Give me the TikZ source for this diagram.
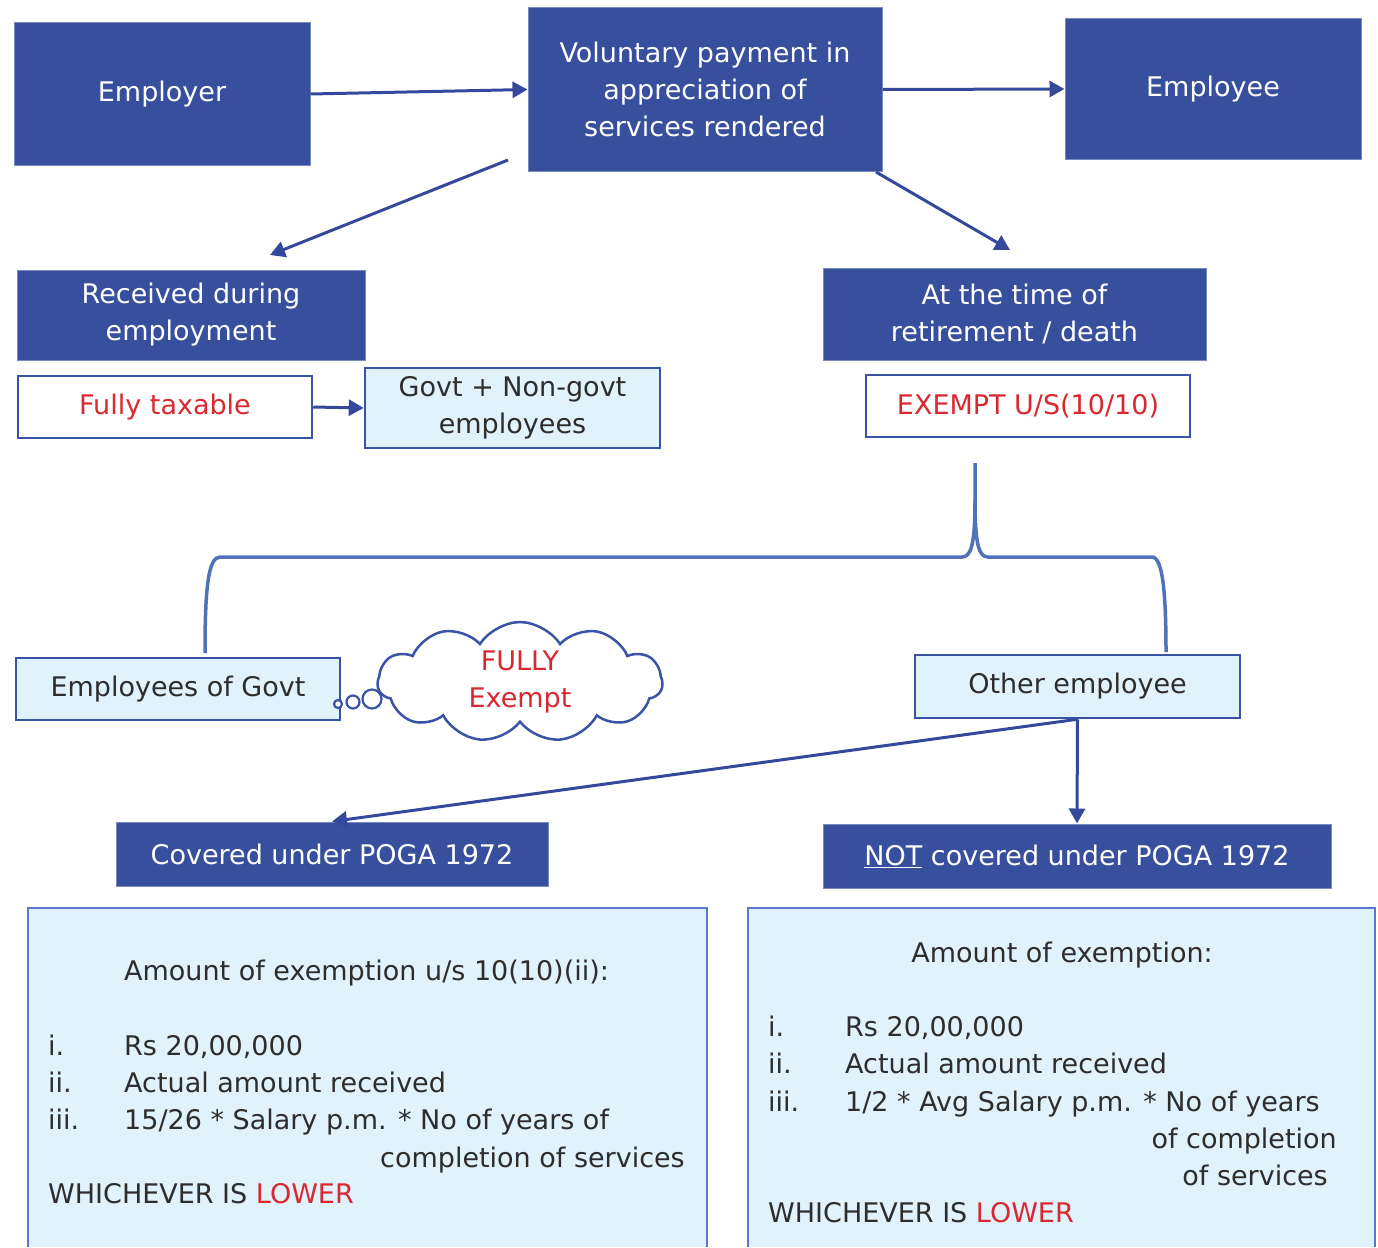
\documentclass[tikz,border=0pt]{standalone}
\usepackage{fontspec}
\setmainfont{DejaVu Sans}
\usetikzlibrary{arrows.meta,shapes.symbols}
\definecolor{dblue}{RGB}{56,79,158}
\definecolor{dline}{RGB}{120,138,190}
\definecolor{lfill}{RGB}{224,242,252}
\definecolor{lline}{RGB}{58,84,165}
\definecolor{arrc}{RGB}{52,73,155}
\definecolor{brc}{RGB}{79,114,184}
\definecolor{redt}{RGB}{218,40,48}
\definecolor{txt}{RGB}{45,45,45}
\definecolor{bigline}{RGB}{90,120,205}
\newcommand\fsz{\fontsize{27}{37}\selectfont}
\begin{document}
\begin{tikzpicture}[x=1pt,y=-1pt,
  dbox/.style={draw=dline, line width=1pt, fill=dblue, text=white, inner sep=0pt, align=center, font=\fsz},
  lbox/.style={draw=lline, line width=2.5pt, fill=lfill, text=txt, inner sep=0pt, align=center, font=\fsz},
  wbox/.style={draw=lline, line width=2.5pt, fill=white, text=redt, inner sep=0pt, align=center, font=\fsz},
  arr/.style={draw=arrc, line width=3pt, -{Triangle[length=15pt,width=16pt]}},
  brace/.style={draw=brc, line width=3.5pt},
  bubble/.style={circle, draw=lline, line width=2.2pt, fill=white, inner sep=0pt},
  btext/.style={text=txt, font=\fsz, inner sep=0pt}
]
\useasboundingbox (0,0) rectangle (1378,1247);

% top row
\node[dbox, minimum width=296pt, minimum height=142pt] (employer) at (162,94) {Employer};
\node[dbox, minimum width=354pt, minimum height=163pt] (volunt) at (705,89.5) {Voluntary payment in\\appreciation of\\services rendered};
\node[dbox, minimum width=296pt, minimum height=140pt] (employee) at (1213,89) {Employee};

\draw[arr] (employer.east) -- (volunt.west);
\draw[arr] (volunt.east) -- (employee.west);

% second row
\node[dbox, minimum width=348pt, minimum height=90pt] (received) at (191,315) {Received during\\employment};
\node[dbox, minimum width=383pt, minimum height=92pt] (attime) at (1014.5,314) {At the time of\\retirement / death};

\coordinate (s1) at (508,160);
\coordinate (t1) at (270,255);
\coordinate (s2) at (876,172);
\coordinate (t2) at (1010,250);
\draw[arr] (s1) -- (t1);
\draw[arr] (s2) -- (t2);

\node[wbox, minimum width=294pt, minimum height=62pt] (fully) at (165,407) {Fully taxable};
\node[lbox, minimum width=295pt, minimum height=80pt] (govtnon) at (512.5,408) {Govt + Non-govt\\employees};
\draw[arr] (fully.east) -- (govtnon.west);
\node[wbox, minimum width=324pt, minimum height=62pt] (exempt) at (1028,406) {EXEMPT U/S(10/10)};

% brace
\coordinate (btop) at (975,463);
\coordinate (bleft) at (205,653);
\coordinate (bright) at (1166,652);
\draw[brace] (btop) -- (975,500) .. controls (975,545) and (971,557) .. (962,557)
  -- (220,557) .. controls (208,557) and (205,590) .. (bleft);
\draw[brace] (975,500) .. controls (975,545) and (979,557) .. (988,557)
  -- (1152,557) .. controls (1163,557) and (1166,595) .. (bright);

% third row
\node[lbox, minimum width=324pt, minimum height=62pt] (empgovt) at (178,689) {Employees of Govt};
\node[lbox, minimum width=325pt, minimum height=63pt] (other) at (1077.5,686.5) {Other employee};

\node[cloud, cloud puffs=11, cloud puff arc=115, aspect=2.6, draw=lline, line width=2.5pt, fill=white,
  minimum width=285pt, minimum height=109pt, inner sep=0pt, text=redt, align=center, font=\fsz] (cloud) at (520,682) {FULLY\\Exempt};
\node[bubble, minimum size=8pt] (b1) at (338,704) {};
\node[bubble, minimum size=13pt] (b2) at (353,702) {};
\node[bubble, minimum size=19pt] (b3) at (372,699) {};

% fourth row
\node[dbox, minimum width=432pt, minimum height=64pt] (covered) at (332,854) {Covered under POGA 1972};
\node[dbox, minimum width=508pt, minimum height=64pt] (notcov) at (1077,856) {\underline{NOT} covered under POGA 1972};
\draw[arr] (other.south) -- (covered.north);
\draw[arr] (other.south) -- (notcov.north);

% big boxes
\fill[lfill] (28,908) rectangle (707,1247);
\draw[bigline, line width=1.2pt] (28,1247) -- (28,908) -- (707,908) -- (707,1247);
\fill[lfill] (748,908) rectangle (1375,1247);
\draw[bigline, line width=1.2pt] (748,1247) -- (748,908) -- (1375,908) -- (1375,1247);

% left box text
\node[btext, anchor=base west] (la) at (124,980) {Amount of exemption u/s 10(10)(ii):};
\node[btext, anchor=base west] (l1n) at (48,1055) {i.};
\node[btext, anchor=base west] (l1) at (124,1055) {Rs 20,00,000};
\node[btext, anchor=base west] (l2n) at (48,1092) {ii.};
\node[btext, anchor=base west] (l2) at (124,1092) {Actual amount received};
\node[btext, anchor=base west] (l3n) at (48,1129) {iii.};
\node[btext, anchor=base west] (l3) at (124,1129) {15/26 * Salary p.m. * No of years of};
\node[btext, anchor=base east] (l4) at (685,1167) {completion of services};
\node[btext, anchor=base west] (l5) at (48,1203) {WHICHEVER IS \textcolor{redt}{LOWER}};

% right box text
\node[btext, anchor=base] (ra) at (1062,962) {Amount of exemption:};
\node[btext, anchor=base west] (r1n) at (768,1036) {i.};
\node[btext, anchor=base west] (r1) at (845,1036) {Rs 20,00,000};
\node[btext, anchor=base west] (r2n) at (768,1073) {ii.};
\node[btext, anchor=base west] (r2) at (845,1073) {Actual amount received};
\node[btext, anchor=base west] (r3n) at (768,1111) {iii.};
\node[btext, anchor=base west] (r3) at (845,1111) {1/2 * Avg Salary p.m. * No of years};
\node[btext, anchor=base east] (r4) at (1337,1148) {of completion};
\node[btext, anchor=base east] (r5) at (1328,1185) {of services};
\node[btext, anchor=base west] (r6) at (768,1222) {WHICHEVER IS \textcolor{redt}{LOWER}};
\end{tikzpicture}
\end{document}
